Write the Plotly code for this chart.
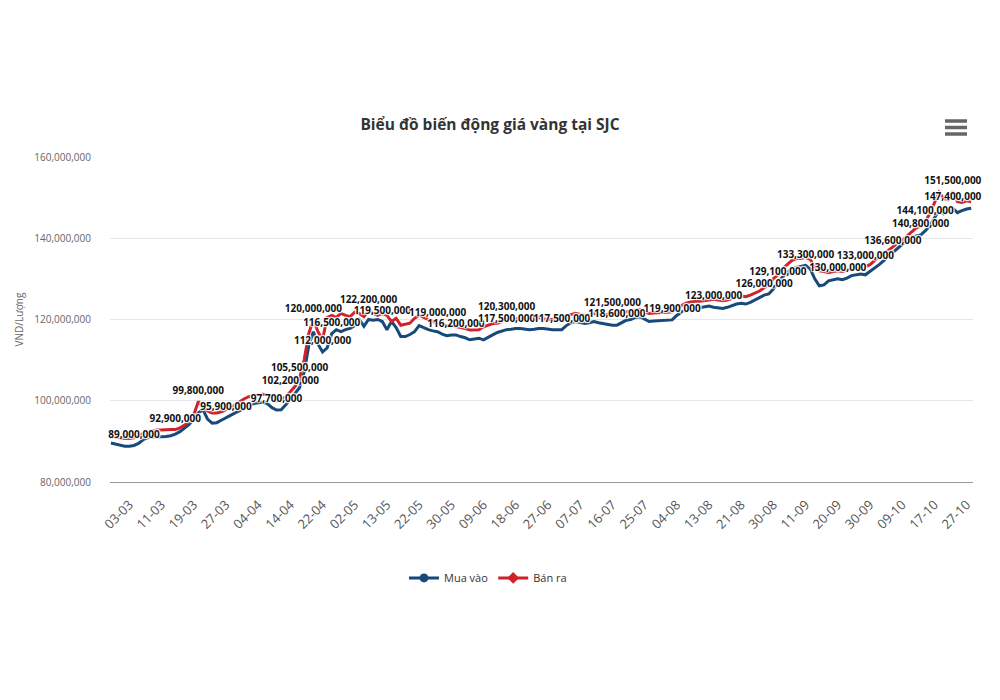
import plotly.graph_objects as go

# ---- data (million VND / lượng), one value per trading day ----
mua_vao = [
    89.6, 89.3, 89.0, 88.8, 88.8, 89.0, 89.5, 90.4, 90.9, 91.1,
    91.1, 91.1, 91.2, 91.4, 91.8, 92.4, 93.2, 94.2, 95.5, 97.0,
    97.8, 95.5, 94.5, 94.6, 95.2, 95.9, 96.4, 97.0, 97.6, 98.3,
    98.9, 99.3, 99.5, 99.6, 99.3, 98.3, 97.7, 97.8, 99.0, 100.3,
    101.8, 103.2, 107.0, 113.5, 117.0, 114.0, 112.0, 113.0, 116.5, 117.5,
    117.0, 117.5, 117.8, 118.5, 120.0, 118.3, 120.0, 119.8, 120.0, 119.5,
    117.5, 119.5, 118.0, 115.8, 115.8, 116.3, 117.0, 118.5, 118.0, 117.5,
    117.2, 117.0, 116.4, 116.0, 116.2, 116.2, 115.8, 115.5, 115.0, 115.2,
    115.4, 115.0, 115.5, 116.2, 116.8, 117.2, 117.5, 117.6, 117.8, 117.8,
    117.7, 117.5, 117.6, 117.8, 117.8, 117.6, 117.5, 117.5, 117.5, 118.5,
    119.2, 119.5, 119.3, 119.0, 119.2, 119.5, 119.2, 119.0, 118.8, 118.6,
    118.6, 119.3, 119.8, 120.0, 120.5, 120.7, 120.0, 119.5, 119.6, 119.7,
    119.8, 119.9, 119.9, 121.0, 121.8, 122.3, 122.5, 122.8, 123.0, 123.2,
    123.3, 123.0, 122.8, 122.7, 123.0, 123.5, 123.8, 124.0, 123.8, 124.2,
    124.8, 125.3, 126.0, 126.3, 127.5, 129.1, 130.5, 131.5, 132.5, 132.8,
    133.0, 133.3, 132.5, 130.0, 128.3, 128.5, 129.5, 129.8, 130.0, 129.8,
    130.2, 130.8, 131.0, 131.2, 131.0, 131.8, 132.5, 133.5, 134.5, 135.5,
    136.6, 137.5, 138.5, 139.5, 140.3, 140.5, 140.8, 141.8, 143.0, 145.0,
    146.8, 146.0, 146.5, 147.4, 146.3, 146.8, 147.2, 147.4,
]
ban_ra = [
    91.2, 91.0, 90.8, 90.7, 90.7, 90.9, 91.3, 92.0, 92.4, 92.6,
    92.8, 92.8, 92.9, 92.9, 92.9, 93.3, 94.0, 95.0, 96.5, 99.8,
    98.5, 97.5, 97.0, 97.0, 97.3, 97.8, 98.3, 99.0, 99.8, 100.5,
    101.0, 101.3, 101.5, 101.6, 101.5, 101.0, 100.0, 100.3, 101.0, 102.2,
    103.5, 105.5, 110.0, 116.5, 120.0, 117.0, 115.0, 120.5, 121.0, 120.5,
    121.5, 121.0, 120.7, 121.8, 121.5, 120.7, 122.2, 121.5, 121.0, 121.5,
    121.0, 119.5, 120.3, 118.6, 118.8, 119.1, 120.3, 121.1, 120.5, 120.0,
    119.5, 119.0, 118.8, 118.5, 118.5, 118.3, 118.0, 117.8, 117.4, 117.4,
    117.5, 118.2, 118.6, 119.0, 119.1, 119.5, 120.3, 120.3, 120.2, 120.0,
    119.9, 120.0, 120.3, 120.5, 120.2, 120.0, 120.0, 120.0, 120.2, 120.8,
    121.2, 121.5, 121.3, 121.0, 121.2, 121.5, 121.3, 121.2, 121.3, 121.5,
    121.4, 121.6, 121.8, 122.0, 122.3, 122.5, 121.8, 121.5, 121.6, 121.6,
    121.7, 121.8, 121.9, 122.8, 123.5, 124.0, 124.3, 124.5, 124.5, 124.6,
    124.8, 125.0, 124.8, 124.6, 124.8, 125.2, 125.6, 125.8, 125.6, 126.0,
    126.5, 127.0, 127.8, 128.5, 130.0, 131.0, 132.5, 133.5, 134.5, 135.0,
    135.0, 135.3, 134.8, 133.0, 132.0, 131.8, 131.5, 131.8, 132.0, 131.8,
    132.2, 132.5, 132.8, 133.0, 133.0, 133.5, 134.5, 135.5, 136.3, 137.0,
    138.0, 138.8, 139.5, 140.5, 141.5, 142.5, 143.0, 144.1, 146.0, 148.5,
    151.3, 149.8, 149.5, 151.5, 149.0, 148.8, 149.2, 149.0,
]
# points carrying a value label
label_idx_mua = [5, 25, 36, 46, 48, 59, 75, 86, 98, 110, 122, 131, 142, 145,
                 151, 158, 170, 176, 183]
label_idx_ban = [14, 19, 39, 41, 44, 56, 71, 86, 109, 164, 177, 183]

tick_labels = ["03-03", "11-03", "19-03", "27-03", "04-04", "14-04", "22-04",
               "02-05", "13-05", "22-05", "30-05", "09-06", "18-06", "27-06",
               "07-07", "16-07", "25-07", "04-08", "13-08", "21-08", "30-08",
               "11-09", "20-09", "30-09", "09-10", "17-10", "27-10"]
tick_first, tick_step = 4, 7

BLUE = "#17497a"
RED = "#d0222b"

x = list(range(len(mua_vao)))
y_mua = [v * 1e6 for v in mua_vao]
y_ban = [v * 1e6 for v in ban_ra]

halo = "1px 1px 1px #fff, -1px -1px 1px #fff, 1px -1px 1px #fff, -1px 1px 1px #fff"
tf = dict(family="Open Sans, Arial, sans-serif", size=10, color="#111", weight="bold",
          shadow=halo)

fig = go.Figure()
fig.add_trace(go.Scatter(x=x, y=y_mua, mode="lines", name="Mua vào",
                         line=dict(color=BLUE, width=3), showlegend=False))
fig.add_trace(go.Scatter(x=x, y=y_ban, mode="lines", name="Bán ra",
                         line=dict(color=RED, width=3), showlegend=False))

# value labels, drawn above both lines
for idx, vals in ((label_idx_mua, y_mua), (label_idx_ban, y_ban)):
    fig.add_trace(go.Scatter(
        x=[x[i] for i in idx], y=[vals[i] for i in idx],
        text=[f"{round(vals[i]):,}" for i in idx],
        mode="markers+text", textposition="top center", textfont=tf,
        marker=dict(size=7, color="rgba(0,0,0,0)", line=dict(width=0)),
        cliponaxis=False, showlegend=False, hoverinfo="skip"))

# legend entries
fig.add_trace(go.Scatter(x=[None], y=[None], mode="lines+markers", name="Mua vào",
                         line=dict(color=BLUE, width=3),
                         marker=dict(symbol="circle", size=9, color=BLUE)))
fig.add_trace(go.Scatter(x=[None], y=[None], mode="lines+markers", name="Bán ra",
                         line=dict(color=RED, width=3),
                         marker=dict(symbol="diamond", size=9, color=RED)))

tickvals = [tick_first + tick_step * k for k in range(len(tick_labels))]

fig.update_layout(
    width=1000, height=700,
    margin=dict(l=110, r=27, t=157, b=218),
    paper_bgcolor="white", plot_bgcolor="white",
    font=dict(family="Open Sans, Arial, sans-serif", color="#666"),
    title=dict(text="<b>Biểu đồ biến động giá vàng tại SJC</b>", x=0.49, xanchor="center",
               xref="container", y=1 - 125 / 700, yref="container", yanchor="middle",
               font=dict(size=15.5, color="#333")),
    xaxis=dict(range=[-0.2, len(x) - 0.6], tickmode="array", tickvals=tickvals,
               ticktext=tick_labels, tickangle=-45, tickfont=dict(size=13, color="#555"),
               showgrid=False, zeroline=False, showline=True, linecolor="#999",
               linewidth=1, ticks="", ticklabelstandoff=9),
    yaxis=dict(range=[80e6, 160e6], tickmode="array",
               tickvals=[80e6, 100e6, 120e6, 140e6, 160e6], tickformat=",d",
               tickfont=dict(size=10, color="#666"), gridcolor="#e6e6e6",
               zeroline=False, showline=False, ticklabelstandoff=18),
    legend=dict(orientation="h", x=0.438, xanchor="center", y=-0.295, yanchor="middle",
                font=dict(size=11, color="#333"), itemwidth=30),
    annotations=[dict(text="VND/Lượng", textangle=-90, xref="paper", yref="paper",
                      x=(18 - 110) / 863, y=0.5, xanchor="center", yanchor="middle",
                      showarrow=False, font=dict(size=10, color="#666"))],
    shapes=[dict(type="line", xref="paper", yref="paper",
                 x0=(945 - 110) / 863, x1=(967 - 110) / 863,
                 y0=(482 - yy) / 325, y1=(482 - yy) / 325,
                 line=dict(color="#666", width=3.5))
            for yy in (121, 127.5, 134)],
)

fig.write_html("out.html")
